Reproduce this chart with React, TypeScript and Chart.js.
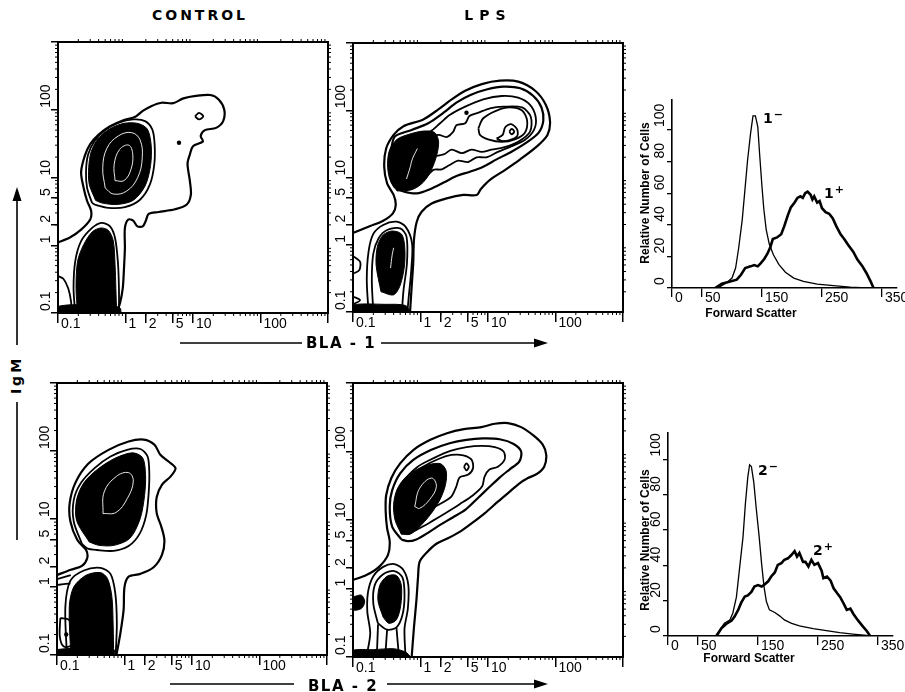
import React, { useEffect, useRef } from 'react';
import { Chart, registerables } from 'chart.js';

Chart.register(...registerables);

type Pt = [number, number];

// ---------- axis ticks ----------
const LOG_TICKS = [0.1, 1, 2, 5, 10, 100, 1000];
const LOG_LABELS = ['0.1', '1', '2', '5', '10', '100', ''];
const HX_TICKS = [0, 50, 150, 250, 350];
const HX_LABELS = ['0', '50', '150', '250', '350'];
const HY_TICKS = [0, 20, 40, 60, 80, 100];
const HY_LABELS = ['0', '20', '40', '60', '80', '100'];

// ---------- panel 1: CONTROL, BLA-1 (x: BLA-1, y: IgM) ----------
const c1Outer: Pt[] = [[0.1,1.1],[0.15,1.3],[0.22,1.7],[0.3,2.4],[0.31,3.2],[0.27,4.5],[0.24,7],[0.22,12],[0.25,21],[0.3,31],[0.4,43],[0.59,57],[0.93,70],[1.4,79],[1.8,96],[2.4,113],[3.4,127],[5.1,125],[7.2,147],[11,160],[18,165],[24,142],[29,101],[28,68],[22,54],[15,50],[13,41],[14,34],[10,29],[9,22],[8.3,16],[9,8.8],[9.3,5.6],[8.1,4],[5.4,3.4],[3.1,3.1],[2.2,2.9],[2,2.3],[1.8,1.9],[1.5,1.9],[1.3,2.3],[1.1,2.4],[0.98,1.8],[0.98,0.91],[0.95,0.46],[0.91,0.23],[0.83,0.14],[0.74,0.1]];
const c1Ring: Pt[] = [[0.32,4.2],[0.27,7],[0.26,12.4],[0.28,22],[0.345,34],[0.5,50],[0.78,64],[1.31,72],[1.95,68],[2.5,51],[2.7,31],[2.67,15.6],[2.3,7.9],[1.64,4.7],[0.98,3.65],[0.56,3.56],[0.37,3.9],[0.32,4.2]];
const c1Core: Pt[] = [[0.36,4.6],[0.29,8],[0.285,14],[0.31,24],[0.39,37],[0.58,52],[0.95,63],[1.5,63],[2.1,52],[2.4,30],[2.35,15],[1.95,7.5],[1.3,4.6],[0.75,4.0],[0.45,4.2],[0.36,4.6]];
const c1White1: Pt[] = [[0.5,7],[0.46,13.9],[0.53,27],[0.78,41],[1.23,46],[1.64,36],[1.77,19.5],[1.51,9.9],[1.04,6.3],[0.66,5.7],[0.5,7]];
const c1White2: Pt[] = [[0.7,9],[0.68,15.6],[0.82,26],[1.12,30],[1.28,22],[1.2,13],[0.95,9],[0.7,9]];
const c1LowRing: Pt[] = [[0.18,0.1],[0.17,0.23],[0.18,0.58],[0.22,1.15],[0.32,1.8],[0.44,2.14],[0.59,1.9],[0.7,1.28],[0.77,0.58],[0.8,0.23],[0.8,0.1]];
const c1LowCore: Pt[] = [[0.195,0.1],[0.185,0.23],[0.195,0.58],[0.24,1.02],[0.32,1.57],[0.43,1.8],[0.56,1.65],[0.66,1.15],[0.7,0.52],[0.72,0.23],[0.74,0.1]];
const c1Band: Pt[] = [[0.1,0.1],[0.1,0.125],[0.28,0.133],[0.6,0.128],[0.83,0.119],[0.86,0.1]];
const c1Left: Pt[] = [[0.1,0.35],[0.12,0.32],[0.142,0.23],[0.156,0.149],[0.16,0.1]];
const c1Loop: Pt[] = [[10.7,80],[12.3,90],[14.2,80],[12.3,72],[10.7,80]];
const c1Dots: Pt[] = [[6.2,32.5]];

// ---------- panel 2: LPS, BLA-1 ----------
const p2Outer: Pt[] = [[0.1,1.5],[0.18,1.9],[0.28,2.28],[0.39,2.93],[0.43,3.9],[0.4,5.5],[0.32,8.2],[0.29,14.5],[0.31,27],[0.4,43],[0.56,58],[1.1,73],[1.84,103],[2.9,145],[4.6,195],[8.1,245],[15,275],[28,266],[50,195],[72,120],[83,68],[76,43],[53,29],[30,18.6],[18,13],[10.7,9.2],[7.8,6.7],[6.8,5.5],[4.3,5.5],[2.44,4.9],[1.46,4.1],[1.04,3.1],[0.88,2.2],[0.8,1.18],[0.78,0.53],[0.74,0.24],[0.7,0.1]];
const p2C2: Pt[] = [[0.37,8.7],[0.345,15.3],[0.37,27],[0.42,41],[0.74,51],[1.3,64],[2.2,92],[3.4,130],[5.5,169],[9.8,205],[17,224],[30,212],[47,163],[62,110],[66,70],[56,46],[37,33],[22,24],[13.4,18.6],[8.5,14.5],[5.4,12.2],[3.4,10.5],[2.2,8.4],[1.38,6.7],[0.88,5.8],[0.56,6.2],[0.42,7.1],[0.37,8.7]];
const p2C3: Pt[] = [[0.42,9.2],[0.42,18.2],[0.5,32],[0.78,41],[1.38,48],[1.95,64],[2.7,85],[4.6,113],[8.5,145],[16,163],[28,154],[42,120],[51,78],[48,51],[35,36],[22,29],[14,24],[9.5,20],[6.8,20],[5.1,17],[3.6,17.8],[2.7,15.3],[2.06,13.2],[1.55,13],[1.17,9.7],[0.83,7.3],[0.53,7.5],[0.42,9.2]];
const p2C4: Pt[] = [[1.23,36],[1.84,43],[2.44,40],[3.06,48],[3.4,60],[4.6,64],[5.3,82],[7.2,92],[10.7,107],[17,113],[32,110],[43,80],[42,48],[28,34],[17,28],[11.3,26],[8.1,24],[5.7,26],[4.1,23],[2.9,26],[2.2,22],[1.55,21.6],[1.23,36]];
const p2C5: Pt[] = [[7.2,54],[8.5,76],[13.4,99],[21,110],[32,99],[38,70],[35,46],[25,37],[16,34],[10,37],[7.6,43],[7.2,54]];
const p2C6: Pt[] = [[13.4,38],[16.5,43],[18,56],[22,62],[27,52],[27,41],[21,36],[16,35],[13.4,38]];
const p2Loop: Pt[] = [[20.7,48],[22.4,53],[24.5,48],[22.4,44],[20.7,48]];
const p2Dots: Pt[] = [[4.8,92]];
const p2Core: Pt[] = [[0.45,6.3],[0.35,9.5],[0.325,16],[0.35,26],[0.45,37],[0.68,44],[1.1,49],[1.6,47],[1.85,35],[1.75,22],[1.45,13],[1.1,8.5],[0.75,6.6],[0.45,6.3]];
const p2White: Pt[] = [[0.62,9.5],[0.7,14],[0.76,19],[0.9,27]];
const p2LowRing1: Pt[] = [[0.17,0.1],[0.16,0.3],[0.17,0.79],[0.2,1.45],[0.28,1.97],[0.44,2.2],[0.6,1.86],[0.75,1.05],[0.73,0.42],[0.67,0.17],[0.64,0.1]];
const p2LowRing2: Pt[] = [[0.2,0.1],[0.19,0.3],[0.2,0.74],[0.24,1.25],[0.32,1.66],[0.5,1.75],[0.62,1.32],[0.63,0.53],[0.56,0.21],[0.53,0.1]];
const p2LowCore: Pt[] = [[0.26,0.2],[0.22,0.5],[0.23,0.95],[0.28,1.4],[0.38,1.6],[0.52,1.45],[0.58,1.0],[0.58,0.5],[0.5,0.25],[0.4,0.18],[0.26,0.2]];
const p2White2: Pt[] = [[0.36,0.45],[0.38,0.7],[0.4,0.9]];
const p2Band: Pt[] = [[0.1,0.1],[0.1,0.127],[0.3,0.13],[0.6,0.125],[0.7,0.1]];
const p2Left1: Pt[] = [[0.1,0.68],[0.127,0.56],[0.124,0.42],[0.1,0.37]];
const p2Left2: Pt[] = [[0.1,0.17],[0.127,0.15],[0.1,0.13]];

// ---------- panel 3: CONTROL, BLA-2 ----------
const p3Outer: Pt[] = [[0.1,1.5],[0.16,1.79],[0.234,2.04],[0.28,2.65],[0.27,3.5],[0.2,4.9],[0.158,9.2],[0.154,17],[0.187,34],[0.29,65],[0.58,104],[1.15,138],[1.92,147],[2.77,124],[3.4,88],[4.5,70],[5.7,56],[4.8,42],[3.6,32],[3,21],[3,12.2],[3.5,7.8],[3.9,4.9],[3.6,3],[2.7,1.95],[1.72,1.56],[1.15,1.42],[1,1],[0.97,0.46],[0.87,0.21],[0.76,0.1]];
const p3Ring: Pt[] = [[0.234,4.3],[0.177,9.2],[0.177,19],[0.227,34],[0.36,56],[0.62,83],[1.09,104],[1.72,107],[2.2,83],[2.33,47],[2.28,24],[2.1,11.5],[1.68,6.1],[1.15,4],[0.69,3.4],[0.39,3.5],[0.28,3.7],[0.234,4.3]];
const p3Core: Pt[] = [[0.3,4.6],[0.195,9.5],[0.195,19],[0.25,34],[0.4,54],[0.72,78],[1.3,94],[1.85,80],[2.05,45],[1.98,22],[1.7,10],[1.2,5.2],[0.7,4.1],[0.42,4.1],[0.3,4.6]];
const p3White: Pt[] = [[0.48,12],[0.5,25],[0.75,42],[1.15,48],[1.35,36],[1.1,20],[0.75,12.5],[0.48,12]];
const p3LowRing: Pt[] = [[0.14,0.1],[0.133,0.51],[0.158,1.24],[0.25,1.75],[0.44,1.91],[0.62,1.56],[0.73,0.81],[0.77,0.29],[0.74,0.1]];
const p3LowCore: Pt[] = [[0.16,0.1],[0.152,0.51],[0.177,1.0],[0.27,1.49],[0.44,1.63],[0.56,1.33],[0.65,0.72],[0.68,0.26],[0.69,0.1]];
const p3Band: Pt[] = [[0.1,0.1],[0.1,0.12],[0.4,0.125],[0.7,0.12],[0.72,0.1]];
const p3LeftA: Pt[] = [[0.1,1.3],[0.16,1.49]];
const p3LeftB: Pt[] = [[0.1,1.07],[0.158,1.13]];
const p3Loop: Pt[] = [[0.112,0.35],[0.149,0.33],[0.18,0.21],[0.167,0.14],[0.126,0.133],[0.11,0.186],[0.112,0.35]];
const p3Dots: Pt[] = [[0.137,0.2]];

// ---------- panel 4: LPS, BLA-2 ----------
const p4Outer: Pt[] = [[0.1,1.33],[0.158,1.57],[0.243,2.07],[0.33,3.1],[0.35,4.8],[0.32,7.6],[0.305,13.2],[0.31,23],[0.37,41],[0.5,67],[0.79,106],[1.4,148],[2.47,185],[4.4,212],[8,227],[12.6,254],[19.8,260],[31,227],[48,169],[65,125],[73,89],[68,60],[53,47],[39,41],[29,34],[21,26],[14,18.5],[8.9,12.5],[5.7,8.9],[3.8,6.7],[2.55,5.4],[1.72,4.5],[1.22,3.3],[0.97,2.45],[0.92,1.48],[0.87,0.67],[0.8,0.27],[0.74,0.1]];
const p4C2: Pt[] = [[0.52,5.2],[0.38,8],[0.35,15.7],[0.38,27],[0.5,48],[0.79,76],[1.45,106],[2.7,132],[4.8,148],[8.4,155],[14.9,151],[24,129],[31,100],[29,71],[21,55],[15,42],[10.4,30],[7.1,21],[4.7,14.3],[3,10.9],[1.92,8.4],[1.29,6.5],[0.87,5.2],[0.65,4.9],[0.52,5.2]];
const p4C3: Pt[] = [[0.45,9.5],[0.44,18.5],[0.56,36],[0.89,59],[1.57,80],[2.77,102],[4.8,116],[8,121],[12.6,116],[17,100],[17.7,77],[14,60],[10.4,54],[8.9,43],[8.2,31],[6,23],[3.8,17],[2.4,12.8],[1.53,9.8],[0.97,7.6],[0.63,6.5],[0.45,9.5]];
const p4C4: Pt[] = [[0.49,12.5],[0.49,27],[0.69,43],[1.09,60],[1.92,79],[2.86,89],[4.3,88],[5.7,76],[6,57],[5.1,46],[3.8,42],[3.4,31],[2.86,22],[1.92,17],[1.22,13.7],[0.77,11.8],[0.49,12.5]];
const p4Loop: Pt[] = [[4.4,60],[4.8,67],[5.2,60],[4.8,53],[4.4,60]];
const p4Dots: Pt[] = [[1.53,46]];
const p4Core: Pt[] = [[0.52,6.2],[0.42,10],[0.4,17],[0.45,28],[0.6,42],[0.9,55],[1.4,65],[2.0,66],[2.4,52],[2.35,33],[1.95,20],[1.4,12],[0.95,7.8],[0.7,6.2],[0.52,6.2]];
const p4White: Pt[] = [[0.82,15.7],[0.97,29],[1.45,41],[1.72,31],[1.37,20],[0.97,14.8],[0.82,15.7]];
const p4LowRing1: Pt[] = [[0.158,0.1],[0.18,0.22],[0.163,0.46],[0.167,0.89],[0.2,1.51],[0.28,2.07],[0.41,2.27],[0.56,1.85],[0.66,1.12],[0.65,0.51],[0.58,0.26],[0.6,0.1]];
const p4LowRing2: Pt[] = [[0.234,0.31],[0.2,0.6],[0.21,1.12],[0.28,1.62],[0.41,1.8],[0.54,1.45],[0.58,0.8],[0.54,0.41],[0.44,0.27],[0.32,0.25],[0.234,0.31]];
const p4LowCore: Pt[] = [[0.28,0.38],[0.234,0.67],[0.25,1.12],[0.32,1.51],[0.44,1.55],[0.52,1.12],[0.51,0.57],[0.44,0.35],[0.34,0.31],[0.28,0.38]];
const p4Fan1: Pt[] = [[0.235,0.3],[0.225,0.1]];
const p4Fan2: Pt[] = [[0.32,0.25],[0.3,0.1]];
const p4Fan3: Pt[] = [[0.44,0.27],[0.48,0.1]];
const p4Band: Pt[] = [[0.1,0.1],[0.1,0.125],[0.2,0.128],[0.4,0.132],[0.6,0.118],[0.72,0.1]];
const p4LeftBlob: Pt[] = [[0.1,0.75],[0.133,0.8],[0.149,0.64],[0.133,0.51],[0.1,0.49],[0.1,0.75]];

// ---------- histograms (forward scatter vs relative number of cells) ----------
const h1Neg: Pt[] = [[69,0],[81,1],[92,3.6],[100,6.3],[106,12.6],[111,25],[117,43],[122,64],[126,81],[131,98],[135,109],[139,109],[143,102],[146,85],[150,64],[153,50],[157,37],[162,28],[169,21],[178,15],[189,10],[203,6.3],[219,4.2],[242,2.5],[269,1.5],[297,0.6],[325,0]];
const h1Pos: Pt[] = [[72,0],[83,2.7],[94,3.8],[108,5.3],[115,8.4],[122,12.6],[131,13.7],[137,14.5],[143,13.7],[148,15.8],[154,18.5],[159,21.7],[164,26],[168,31],[175,32],[182,34],[187,39],[193,46],[198,51],[204,54],[209,57],[214,58],[218,57],[222,60],[226,61],[231,59],[234,56],[237,58],[242,54],[246,55],[250,50.5],[256,48],[262,47],[268,44],[274,39],[281,34],[287,31],[294,27],[302,23],[309,18],[317,14],[324,9.5],[331,4.2],[336,0]];
const h2Neg: Pt[] = [[79,0],[86,3.4],[94,7.2],[103,9.1],[108,12.9],[114,22],[119,37.5],[125,56],[129,75],[133,90],[136,97],[139,96],[143,87],[147,72.5],[152,56],[156,41],[160,28],[164,19.5],[169,14.8],[178,13.3],[186,11.4],[194,9.1],[206,7.2],[219,5.7],[242,4.2],[264,3],[286,1.9],[308,1.1],[331,0.4],[339,0]];
const h2Pos: Pt[] = [[81,0],[89,4.4],[97,6.8],[106,8.7],[111,11],[117,14.8],[122,18.9],[128,22.3],[133,23],[139,25],[144,28],[150,28.8],[156,28],[161,29.2],[167,31],[172,33.7],[178,36],[183,40.3],[189,41.3],[194,43.2],[200,44],[206,46],[211,48],[215,45],[219,47],[225,42],[229,42],[234,39.4],[239,43.2],[244,40.3],[250,41.3],[256,37],[259,32.8],[265,33.7],[271,31.4],[276,27],[282,24.2],[287,22],[293,18.2],[298,14.8],[304,15.5],[309,12.5],[317,8.7],[325,5.3],[331,3],[337,0]];

// ---------- rendering ----------
const TICK_FONT = { family: '"Liberation Sans", Arial, sans-serif', size: 14 };

type Kind = 'line' | 'fill' | 'white' | 'dot' | 'thin';
type Layer = { pts: Pt[]; kind: Kind };
type Area = { left: number; top: number; w: number; h: number };

const L = (pts: Pt[], kind: Kind = 'line'): Layer => ({ pts, kind });

function buildDatasets(layers: Layer[]) {
  return layers.map((l) => {
    const data = l.pts.map(([x, y]) => ({ x, y }));
    if (l.kind === 'dot') {
      return { data, showLine: false, pointRadius: 2.2, pointBackgroundColor: '#000', pointBorderWidth: 0, order: 0 };
    }
    if (l.kind === 'fill') {
      return { data, showLine: true, pointRadius: 0, borderColor: '#000', borderWidth: 1, backgroundColor: '#000', fill: 'shape', tension: 0.3, order: 1 };
    }
    if (l.kind === 'white') {
      return { data, showLine: true, pointRadius: 0, borderColor: '#fff', borderWidth: 0.9, tension: 0.4, fill: false, order: 0 };
    }
    return { data, showLine: true, pointRadius: 0, borderColor: '#000', borderWidth: l.kind === 'thin' ? 1.8 : 2.2, tension: 0.3, fill: false, order: 2 };
  });
}

const framePlugin = {
  id: 'frame',
  afterDraw(chart: any) {
    const { ctx, chartArea: a, scales } = chart;
    ctx.save();
    ctx.strokeStyle = '#000';
    ctx.lineWidth = 2;
    ctx.strokeRect(a.left, a.top, a.right - a.left, a.bottom - a.top);
    ctx.lineWidth = 1;
    ctx.beginPath();
    for (const d of [0.1, 1, 10, 100]) {
      for (let m = 2; m <= 9; m++) {
        const v = d * m;
        const px = scales.x.getPixelForValue(v);
        const py = scales.y.getPixelForValue(v);
        ctx.moveTo(px, a.bottom); ctx.lineTo(px, a.bottom + 3);
        ctx.moveTo(px, a.top); ctx.lineTo(px, a.top - 3);
        ctx.moveTo(a.left, py); ctx.lineTo(a.left - 3, py);
        ctx.moveTo(a.right, py); ctx.lineTo(a.right + 3, py);
      }
    }
    ctx.stroke();
    ctx.restore();
  },
};

function ContourPanel({ area, layers }: { area: Area; layers: Layer[] }) {
  const ref = useRef<HTMLCanvasElement>(null);
  const PADL = 32, PADT = 12, PADR = 10, XH = 26, YW = 19;
  const cw = area.w + PADL + PADR;
  const ch = area.h + PADT + XH;
  useEffect(() => {
    const chart = new Chart(ref.current as HTMLCanvasElement, {
      type: 'scatter',
      data: { datasets: buildDatasets(layers) as any },
      options: {
        responsive: false,
        animation: false,
        devicePixelRatio: 1,
        events: [],
        layout: { padding: { left: PADL - YW, top: PADT, right: PADR, bottom: 0 } },
        plugins: { legend: { display: false }, tooltip: { enabled: false } },
        scales: {
          x: {
            type: 'logarithmic', min: 0.1, max: 1000,
            afterBuildTicks: (s: any) => { s.ticks = LOG_TICKS.map((v) => ({ value: v })); },
            afterFit: (s: any) => { s.height = XH; },
            border: { display: false },
            grid: { display: true, drawOnChartArea: false, drawTicks: true, tickLength: 10, color: '#000', lineWidth: 1.5 },
            ticks: { autoSkip: false, minRotation: 0, maxRotation: 0, align: 'start', padding: -7, labelOffset: 3, color: '#000', font: TICK_FONT, callback: (_v: any, i: number) => LOG_LABELS[i] },
          },
          y: {
            type: 'logarithmic', min: 0.1, max: 1000,
            afterBuildTicks: (s: any) => { s.ticks = LOG_TICKS.map((v) => ({ value: v })); },
            afterFit: (s: any) => { s.width = YW; },
            border: { display: false },
            grid: { display: true, drawOnChartArea: false, drawTicks: true, tickLength: 7, color: '#000', lineWidth: 1.5 },
            ticks: { autoSkip: false, minRotation: 90, maxRotation: 90, crossAlign: 'far', align: 'start', padding: -12, labelOffset: -2, color: '#000', font: TICK_FONT, callback: (_v: any, i: number) => LOG_LABELS[i] },
          },
        },
      } as any,
      plugins: [framePlugin],
    });
    return () => chart.destroy();
  }, []);
  return (
    <canvas ref={ref} width={cw} height={ch}
      style={{ position: 'absolute', left: area.left - PADL, top: area.top - PADT, width: cw, height: ch }} />
  );
}

function HistPanel({ area, ymax, neg, pos }: { area: Area; ymax: number; neg: Pt[]; pos: Pt[] }) {
  const ref = useRef<HTMLCanvasElement>(null);
  const PADL = 30, PADT = 10, PADR = 12, XH = 24, YW = 19;
  const cw = area.w + PADL + PADR;
  const ch = area.h + PADT + XH;
  useEffect(() => {
    const chart = new Chart(ref.current as HTMLCanvasElement, {
      type: 'scatter',
      data: {
        datasets: [
          { data: pos.map(([x, y]) => ({ x, y })), showLine: true, pointRadius: 0, borderColor: '#000', borderWidth: 2.6, tension: 0 },
          { data: neg.map(([x, y]) => ({ x, y })), showLine: true, pointRadius: 0, borderColor: '#000', borderWidth: 1.3, tension: 0 },
        ],
      },
      options: {
        responsive: false,
        animation: false,
        devicePixelRatio: 1,
        events: [],
        layout: { padding: { left: PADL - YW, top: PADT, right: PADR, bottom: 0 } },
        plugins: { legend: { display: false }, tooltip: { enabled: false } },
        scales: {
          x: {
            type: 'linear', min: 0, max: 375,
            afterBuildTicks: (s: any) => { s.ticks = HX_TICKS.map((v) => ({ value: v })); },
            afterFit: (s: any) => { s.height = XH; },
            border: { display: true, color: '#000', width: 1.6 },
            grid: { display: true, drawOnChartArea: false, drawTicks: true, tickLength: 9, color: '#000', lineWidth: 1.3 },
            ticks: { autoSkip: false, minRotation: 0, maxRotation: 0, align: 'start', padding: -7, labelOffset: 3, color: '#000', font: TICK_FONT, callback: (_v: any, i: number) => HX_LABELS[i] },
          },
          y: {
            type: 'linear', min: 0, max: ymax,
            afterBuildTicks: (s: any) => { s.ticks = HY_TICKS.map((v) => ({ value: v })); },
            afterFit: (s: any) => { s.width = YW; },
            border: { display: true, color: '#000', width: 1.6 },
            grid: { display: true, drawOnChartArea: false, drawTicks: true, tickLength: 5, color: '#000', lineWidth: 1.3 },
            ticks: { autoSkip: false, minRotation: 90, maxRotation: 90, crossAlign: 'far', align: 'start', padding: -12, labelOffset: -3, color: '#000', font: TICK_FONT, callback: (_v: any, i: number) => HY_LABELS[i] },
          },
        },
      } as any,
    });
    return () => chart.destroy();
  }, []);
  return (
    <canvas ref={ref} width={cw} height={ch}
      style={{ position: 'absolute', left: area.left - PADL, top: area.top - PADT, width: cw, height: ch }} />
  );
}

const BOLD = '"DejaVu Sans", "Liberation Sans", sans-serif';
const SANS = '"Liberation Sans", Arial, sans-serif';

function Txt({ x, y, children, size = 13, ls = 0, rot = false, family = BOLD, weight = 700 }: any) {
  return (
    <div style={{
      position: 'absolute', left: x, top: y, whiteSpace: 'nowrap', fontFamily: family, fontWeight: weight,
      fontSize: size, letterSpacing: ls, lineHeight: 1, color: '#000',
      transform: `translate(-50%, -50%)${rot ? ' rotate(-90deg)' : ''}`,
    }}>{children}</div>
  );
}

function Sup({ base, sign, x, y }: any) {
  return (
    <div style={{ position: 'absolute', left: x, top: y, transform: 'translate(0,-50%)', fontFamily: BOLD, fontWeight: 700, fontSize: 14, lineHeight: 1, whiteSpace: 'nowrap' }}>
      {base}<span style={{ fontSize: 11, position: 'relative', top: -5, marginLeft: 1 }}>{sign}</span>
    </div>
  );
}

export default function App() {
  const P1: Area = { left: 58, top: 42, w: 270, h: 271 };
  const P2: Area = { left: 353, top: 43, w: 270, h: 269 };
  const P3: Area = { left: 57, top: 383, w: 270, h: 272 };
  const P4: Area = { left: 353, top: 383, w: 270, h: 274 };
  const H1: Area = { left: 672, top: 100, w: 225, h: 188 };
  const H2: Area = { left: 668, top: 433, w: 225, h: 203 };

  const layers1: Layer[] = [L(c1Outer), L(c1Ring, 'thin'), L(c1Core, 'fill'), L(c1White1, 'white'), L(c1White2, 'white'),
    L(c1LowRing, 'thin'), L(c1LowCore, 'fill'), L(c1Band, 'fill'), L(c1Left, 'thin'), L(c1Loop, 'thin'), L(c1Dots, 'dot')];
  const layers2: Layer[] = [L(p2Outer), L(p2C2), L(p2C3, 'thin'), L(p2C4, 'thin'), L(p2C5, 'thin'), L(p2C6, 'thin'), L(p2Loop, 'thin'),
    L(p2Dots, 'dot'), L(p2Core, 'fill'), L(p2White, 'white'), L(p2LowRing1, 'thin'), L(p2LowRing2, 'thin'), L(p2LowCore, 'fill'),
    L(p2White2, 'white'), L(p2Band, 'fill'), L(p2Left1, 'thin'), L(p2Left2, 'thin')];
  const layers3: Layer[] = [L(p3Outer), L(p3Ring, 'thin'), L(p3Core, 'fill'), L(p3White, 'white'), L(p3LowRing, 'thin'), L(p3LowCore, 'fill'),
    L(p3Band, 'fill'), L(p3LeftA, 'thin'), L(p3LeftB, 'thin'), L(p3Loop, 'thin'), L(p3Dots, 'dot')];
  const layers4: Layer[] = [L(p4Outer), L(p4C2), L(p4C3, 'thin'), L(p4C4, 'thin'), L(p4Loop, 'thin'), L(p4Dots, 'dot'), L(p4Core, 'fill'),
    L(p4White, 'white'), L(p4LowRing1, 'thin'), L(p4LowRing2, 'thin'), L(p4LowCore, 'fill'), L(p4Fan1, 'thin'), L(p4Fan2, 'thin'),
    L(p4Fan3, 'thin'), L(p4Band, 'fill'), L(p4LeftBlob, 'fill')];

  return (
    <div style={{ position: 'absolute', left: 0, top: 0, width: 905, height: 692, background: '#fff', overflow: 'hidden' }}>
      <ContourPanel area={P1} layers={layers1} />
      <ContourPanel area={P2} layers={layers2} />
      <ContourPanel area={P3} layers={layers3} />
      <ContourPanel area={P4} layers={layers4} />
      <HistPanel area={H1} ymax={119} neg={h1Neg} pos={h1Pos} />
      <HistPanel area={H2} ymax={115} neg={h2Neg} pos={h2Pos} />

      <Txt x={200} y={15} size={14} ls={3}>CONTROL</Txt>
      <Txt x={488} y={15} size={14} ls={6}>LPS</Txt>
      <Txt x={341} y={343} ls={1.5} size={15}>BLA - 1</Txt>
      <Txt x={343} y={686} ls={1.5} size={15}>BLA - 2</Txt>
      <Txt x={16} y={375} ls={3} size={14} rot>IgM</Txt>

      <Txt x={645} y={193} rot size={12} family={SANS}>Relative Number of Cells</Txt>
      <Txt x={645} y={540} rot size={12} family={SANS}>Relative Number of Cells</Txt>
      <Txt x={751} y={313} size={12} family={SANS}>Forward Scatter</Txt>
      <Txt x={749} y={658} size={12} family={SANS}>Forward Scatter</Txt>

      <Sup base="1" sign="−" x={763} y={118} />
      <Sup base="1" sign="+" x={824} y={193} />
      <Sup base="2" sign="−" x={758} y={470} />
      <Sup base="2" sign="+" x={813} y={550} />

      <svg width={905} height={692} style={{ position: 'absolute', left: 0, top: 0, pointerEvents: 'none' }}>
        <g stroke="#000" strokeWidth={1.6} fill="none">
          <line x1={180} y1={343} x2={302} y2={343} />
          <line x1={381} y1={343} x2={538} y2={343} />
          <line x1={170} y1={684} x2={294} y2={684} />
          <line x1={387} y1={684} x2={538} y2={684} />
          <line x1={17} y1={345} x2={17} y2={198} />
          <line x1={17} y1={402} x2={17} y2={540} />
        </g>
        <g fill="#000">
          <polygon points="548,343 534,338.5 534,347.5" />
          <polygon points="548,684 534,679.5 534,688.5" />
          <polygon points="17,187 12.5,201 21.5,201" />
        </g>
      </svg>
    </div>
  );
}
